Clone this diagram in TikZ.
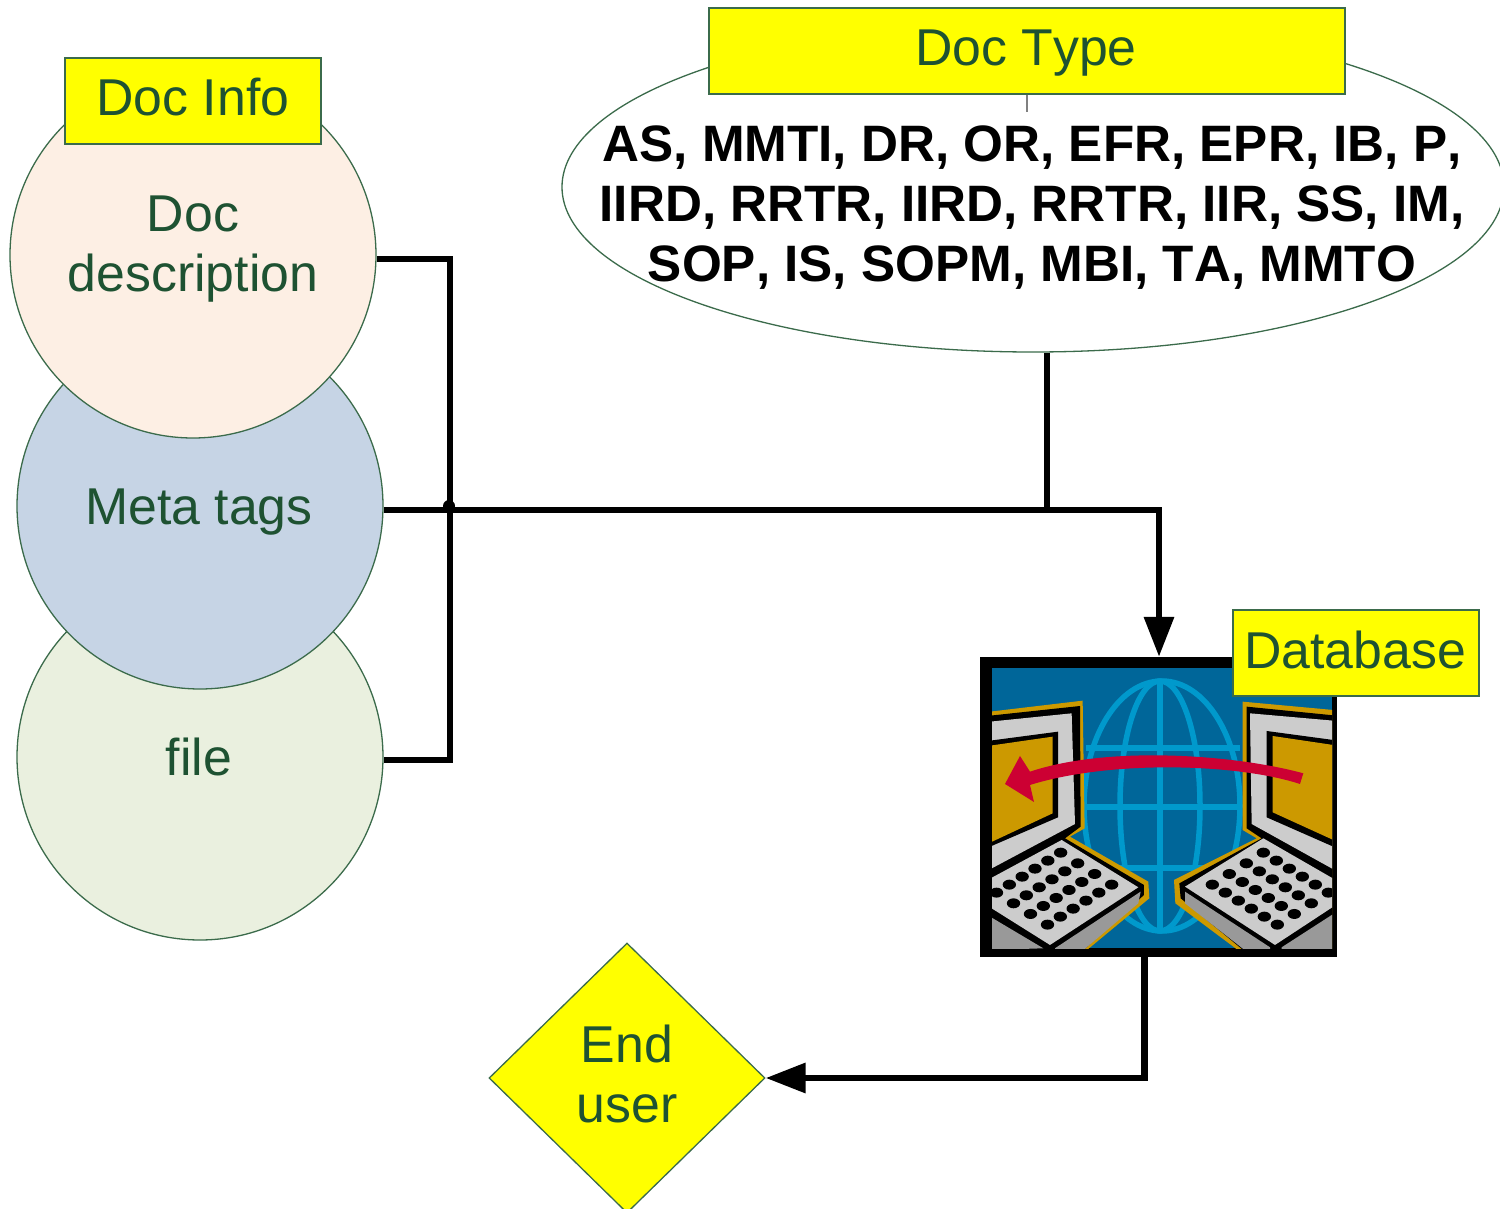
\documentclass[tikz,border=0pt]{standalone}
\usepackage{fontspec}
\setmainfont[Kerning=Off]{Liberation Sans}
\usetikzlibrary{shapes.geometric,arrows.meta}
\definecolor{edgegreen}{HTML}{3B6B4B}
\definecolor{textgreen}{HTML}{1E5232}
\definecolor{peach}{HTML}{FDEFE4}
\definecolor{steel}{HTML}{C6D4E5}
\definecolor{sage}{HTML}{EAF0DF}
\definecolor{netblue}{HTML}{006699}
\definecolor{globeblue}{HTML}{0099CC}
\definecolor{amber}{HTML}{CC9900}
\definecolor{keygrey}{HTML}{CCCCCC}
\definecolor{sidegrey}{HTML}{999999}
\definecolor{arrowred}{HTML}{CC0033}
\definecolor{tagyellow}{RGB}{255,255,0}
\tikzset{
  x=1pt,y=-1pt,
  disc/.style={circle,draw=edgegreen,line width=1.3pt,minimum size=366pt,inner sep=0pt},
  tag/.style={rectangle,draw=edgegreen,line width=1.3pt,fill=tagyellow,inner sep=0pt},
  lbl/.style={text=textgreen,font=\fontsize{51.8}{60}\selectfont,align=center,inner sep=0pt},
  typelist/.style={text=black,font=\fontsize{51.2}{60}\selectfont\bfseries,align=center,inner sep=0pt},
  conn/.style={line width=6.5pt,draw=black,line join=miter},
  arrowconn/.style={conn,-{Triangle[length=40pt,width=29pt]}},
  keycap/.style={fill=black},
}
\newcommand{\keygrid}[6]{%
  \foreach \r in {0,...,5}{\foreach \c in {0,...,3}{%
    \fill[keycap] ({#1+\c*(#3)+\r*(#5)},{#2+\c*(#4)+\r*(#6)}) ellipse (20 and 15);}}}
\begin{document}
\begin{tikzpicture}
\useasboundingbox (0,0) rectangle (1500,1209);
\clip (0,0) rectangle (1500,1209);
% discs
\node[disc,fill=sage] (c3) at (200,757) {};
\node[disc,fill=steel] (c2) at (200,506) {};
\node[disc,fill=peach] (c1) at (193,255) {};
% ellipse
\node[ellipse,draw=edgegreen,line width=1.3pt,fill=white,minimum width=942pt,minimum height=330pt,inner sep=0pt] (types) at (1033,187) {};
% picture
\node[rectangle,fill=black,minimum width=357pt,minimum height=300pt,inner sep=0pt] (db) at (1158.5,807) {};
\begin{scope}
  \clip (992,668) rectangle (1332,948);
  \fill[netblue] (992,668) rectangle (1332,948);
  \begin{scope}[globeblue,line width=5.5pt]
    \draw (1162,806) ellipse (78 and 125);
    \draw (1160,806) ellipse (40 and 125);
    \draw (1160,680) -- (1160,933);
    \draw (1086,748) -- (1240,748);
    \draw (1086,807) -- (1240,807);
    \draw (1090,868) -- (1236,868);
  \end{scope}
  % left laptop
  \begin{scope}[shift={(970,650)},x=0.3333pt,y=-0.3333pt]
    \fill[amber] (60,185)--(338,152)--(344,535)--(300,560)--(535,695)--(538,745)--(345,905)--(60,905)--cycle;
    \fill[black] (60,197)--(330,168)--(332,530)--(285,565)--(522,705)--(522,735)--(335,905)--(60,905)--cycle;
    \fill[keygrey] (60,215)--(305,190)--(315,522)--(60,658)--cycle;
    \fill[black] (60,272)--(264,245)--(264,502)--(60,590)--cycle;
    \fill[amber] (60,287)--(248,260)--(248,490)--(60,578)--cycle;
    \fill[keygrey] (60,686)--(275,570)--(505,712)--(240,885)--(60,772)--cycle;
    \fill[sidegrey] (255,895)--(512,725)--(505,760)--(335,905)--(255,905)--cycle;
    \fill[sidegrey] (60,800)--(220,895)--(60,900)--cycle;
    \keygrid{272}{608}{51}{32}{-38.5}{24}
  \end{scope}
  % right laptop
  \begin{scope}[shift={(1150,650)},x=0.3333pt,y=-0.3333pt]
    \fill[amber] (550,180)--(278,155)--(278,540)--(320,565)--(72,690)--(76,760)--(270,905)--(550,905)--cycle;
    \fill[black] (550,196)--(290,170)--(290,535)--(335,565)--(88,700)--(92,745)--(285,905)--(550,905)--cycle;
    \fill[keygrey] (550,212)--(300,190)--(305,522)--(550,658)--cycle;
    \fill[black] (550,270)--(350,243)--(350,502)--(550,590)--cycle;
    \fill[amber] (550,285)--(368,258)--(368,487)--(550,570)--cycle;
    \fill[keygrey] (550,686)--(340,565)--(105,710)--(375,885)--(550,770)--cycle;
    \fill[sidegrey] (105,725)--(360,892)--(360,905)--(290,905)--(105,760)--cycle;
    \fill[sidegrey] (395,892)--(550,792)--(550,900)--(395,900)--cycle;
    \keygrid{340}{608}{-51}{32}{39}{24}
  \end{scope}
  % red arrow
  \begin{scope}[shift={(970,600)},x=0.3333pt,y=-0.3333pt]
    \fill[arrowred] (1000,520) .. controls (800,465) and (420,435) .. (180,515)
      -- (150,468) -- (105,552) -- (192,606) -- (180,555)
      .. controls (420,480) and (800,490) .. (990,552) -- cycle;
  \end{scope}
\end{scope}
% diamond
\node[diamond,draw=edgegreen,line width=1.3pt,fill=tagyellow,minimum width=276pt,minimum height=270pt,inner sep=0pt] (enduser) at (627,1078) {};
% boxes
\node[tag,minimum width=256pt,minimum height=86pt] (docinfo) at (193,101) {};
\node[tag,minimum width=636pt,minimum height=86pt] (doctype) at (1027,51) {};
\node[tag,minimum width=246pt,minimum height=86pt] (database) at (1356,653) {};
% labels
\node[lbl,anchor=base] (tinfo) at (193,116) {Doc Info};
\node[lbl,anchor=base] (ttype) at (1026,66) {Doc Type};
\node[lbl,anchor=base] (tdb) at (1355,668) {Database};
\node[lbl] (tdesc) at (193,249) {Doc\\description};
\node[lbl,anchor=base] (tmeta) at (199,524) {Meta tags};
\node[lbl,anchor=base] (tfile) at (199,775) {file};
\node[lbl] (tend) at (627,1074) {End\\user};
\node[typelist] (tlist) at (1032,207.5) {AS, MMTI, DR, OR, EFR, EPR, IB, P,\\IIRD, RRTR, IIRD, RRTR, IIR, SS, IM,\\SOP, IS, SOPM, MBI, TA, MMTO};
% connectors
\coordinate (tick) at (1027,112);
\draw[draw=gray,line width=1.3pt] (doctype.south) -- (tick);
\coordinate (bus) at (450,510);
\coordinate (mid) at (1047,510);
\draw[conn] ([yshift=-4pt]c1.east) -| (bus) |- ([yshift=-3pt]c3.east);
\draw[conn] ([yshift=-4pt]c2.east) -- (bus) -- (mid);
\draw[arrowconn] (mid) -| (db.north -| 1159,0);
\draw[conn] (types.south -| mid) -- (mid);
\draw[arrowconn] ([xshift=-14pt]db.south) |- (enduser.east);
\node[circle,fill=black,minimum size=12pt,inner sep=0pt] (dot) at (449,506) {};
\end{tikzpicture}
\end{document}
